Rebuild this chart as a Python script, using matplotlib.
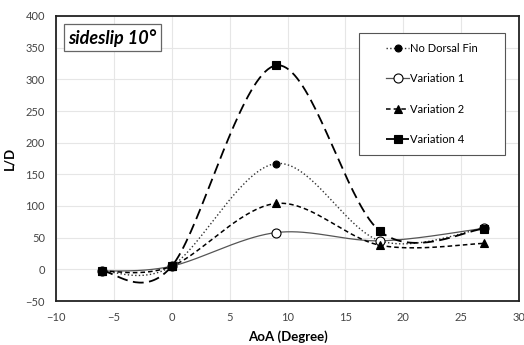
import numpy as np
import matplotlib.pyplot as plt
from matplotlib.patches import Rectangle

plt.rcParams['font.family'] = ['Lato', 'DejaVu Sans']

aoa = [-6, 0, 9, 18, 27]
no_fin = [-3, 5, 167, 45, 65]
var1 = [-3, 5, 58, 45, 65]
var2 = [-3, 5, 104, 38, 41]
var4 = [-3, 5, 322, 60, 64]


def smooth(x, y, n=40):
    # Excel-like smoothed line (Catmull-Rom through the points)
    x = np.asarray(x, float)
    y = np.asarray(y, float)
    px = np.concatenate([[x[0]], x, [x[-1]]])
    py = np.concatenate([[y[0]], y, [y[-1]]])
    xs, ys = [], []
    t = np.linspace(0, 1, n)
    for i in range(1, len(px) - 2):
        p0, p1, p2, p3 = (np.array([px[j], py[j]]) for j in range(i - 1, i + 3))
        c1 = p1 + (p2 - p0) / 6
        c2 = p2 - (p3 - p1) / 6
        b = ((1 - t) ** 3)[:, None] * p1 + (3 * (1 - t) ** 2 * t)[:, None] * c1 \
            + (3 * (1 - t) * t ** 2)[:, None] * c2 + (t ** 3)[:, None] * p2
        xs.extend(b[:, 0])
        ys.extend(b[:, 1])
    return xs, ys


fig = plt.figure(figsize=(5.24, 3.45), dpi=100)
ax = fig.add_axes([56 / 524, 1 - 301 / 345, (519 - 56) / 524, (301 - 16) / 345])

series = [
    (no_fin, "No Dorsal Fin", dict(ls=":", lw=1.0, color="#333333"), dict(marker="o", mfc="black", ms=5)),
    (var1, "Variation 1", dict(ls="-", lw=0.9, color="#555555"), dict(marker="o", mfc="white", ms=6.5)),
    (var2, "Variation 2", dict(ls=(0, (3, 2)), lw=1.1, color="black"), dict(marker="^", mfc="black", ms=5.5)),
    (var4, "Variation 4", dict(ls=(0, (6, 3)), lw=1.3, color="black"), dict(marker="s", mfc="black", ms=5.5)),
]

handles = []
for vals, label, lst, mst in series:
    sx, sy = smooth(aoa, vals)
    ax.plot(sx, sy, zorder=2, **lst)
    ax.plot(aoa, vals, ls="none", mec="black", mew=0.8, zorder=3, **mst)
    h, = ax.plot([], [], label=label, mec="black", mew=0.8, **lst, **mst)
    handles.append(h)

ax.set_xlim(-10, 30)
ax.set_ylim(-50, 400)
ax.set_xticks(np.arange(-10, 31, 5))
ax.set_yticks(np.arange(-50, 401, 50))
ax.grid(True, color="#e6e6e6", lw=0.8)
ax.set_axisbelow(True)
ax.tick_params(length=0, labelsize=8, colors="#444444", pad=8)
for s in ax.spines.values():
    s.set_linewidth(1.3)
    s.set_color("#222222")

ax.set_xlabel("AoA (Degree)", fontsize=9.5, fontweight="bold", labelpad=5)
ax.set_ylabel("L/D", fontsize=9.5, fontweight="bold", labelpad=7)

ax.text(0.026, 0.924, "sideslip 10°", transform=ax.transAxes, fontsize=13,
        fontweight="bold", style="italic", ha="left", va="center",
        bbox=dict(boxstyle="square,pad=0.25", fc="white", ec="#666666", lw=0.9))

# legend frame drawn separately so it can be wider than the entries
x0, x1 = (359 - 56) / 463, (505 - 56) / 463
y0, y1 = (301 - 155) / 285, (301 - 33) / 285
ax.add_patch(Rectangle((x0, y0), x1 - x0, y1 - y0, transform=ax.transAxes,
                       fc="white", ec="#555555", lw=0.8, zorder=4))
leg = ax.legend(handles=handles, loc="center", bbox_to_anchor=((x0 + x1) / 2, (y0 + y1) / 2),
                fontsize=8, frameon=False, labelspacing=1.75, handlelength=2.0,
                handletextpad=0.1, borderpad=0)
leg.set_zorder(5)

fig.savefig("out.png", dpi=100)
